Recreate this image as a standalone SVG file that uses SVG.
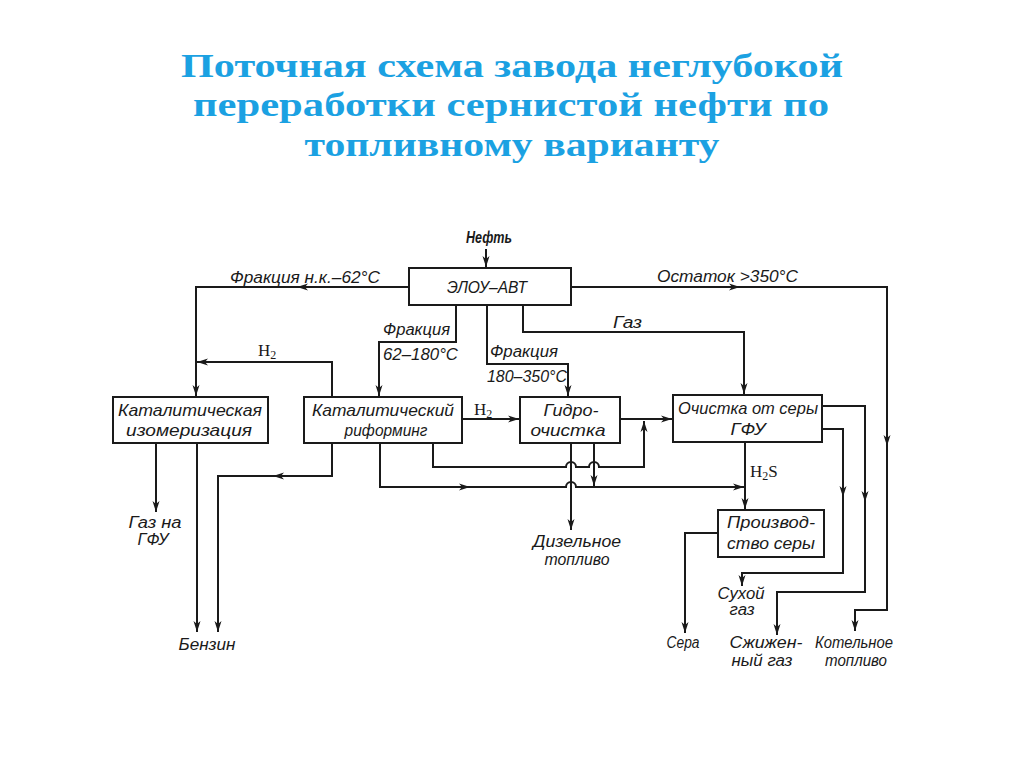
<svg xmlns="http://www.w3.org/2000/svg" xmlns:xlink="http://www.w3.org/1999/xlink" width="1024" height="767" viewBox="0 0 1024 767">
<style>
.title{font-family:"Liberation Serif","DejaVu Serif",serif;font-weight:bold;font-size:34px;fill:#1BA1E2;text-anchor:middle}
.box{fill:#fff;stroke:#1a1a1a;stroke-width:2}
.t{font-family:"Liberation Sans","DejaVu Sans",sans-serif;font-style:italic;font-size:17px;fill:#1a1a1a}
.l{font-family:"Liberation Sans","DejaVu Sans",sans-serif;font-style:italic;font-size:16px;fill:#1a1a1a}
.c{text-anchor:middle}
.h{font-family:"Liberation Serif","DejaVu Serif",serif;font-size:17px;fill:#1a1a1a}
.ln{fill:none;stroke:#1a1a1a;stroke-width:2}
.ah{fill:#1a1a1a}
</style>
<defs>
<marker id="arr" markerWidth="12" markerHeight="8" refX="11" refY="4" orient="auto" markerUnits="userSpaceOnUse" viewBox="0 0 12 8">
<path d="M0,0.5 L11,4 L0,7.5 L3,4 Z" fill="#1a1a1a"/>
</marker>
<path id="ah" d="M0,0 L-11,-3.5 L-8,0 L-11,3.5 Z"/>
</defs>
<rect width="1024" height="767" fill="#fff"/>

<g id="title">
<text class="title" x="512" y="77" textLength="662" lengthAdjust="spacingAndGlyphs">Поточная схема завода неглубокой</text>
<text class="title" x="511" y="116" textLength="636" lengthAdjust="spacingAndGlyphs">переработки сернистой нефти по</text>
<text class="title" x="512" y="156" textLength="415" lengthAdjust="spacingAndGlyphs">топливному варианту</text>
</g>

<g id="connectors">
<path class="ln" d="M486,249 V267" marker-end="url(#arr)"/>
<path class="ln" d="M409,287 H196 V396" marker-end="url(#arr)"/>
<path class="ln" d="M571,287 H887 V610 H855 V631" marker-end="url(#arr)"/>
<path class="ln" d="M523,305 V332 H744 V394" marker-end="url(#arr)"/>
<path class="ln" d="M456,305 V342 H379 V396" marker-end="url(#arr)"/>
<path class="ln" d="M487,305 V364 H568 V396" marker-end="url(#arr)"/>
<path class="ln" d="M332,397 V362 H197" marker-end="url(#arr)"/>
<path class="ln" d="M462,419 H519" marker-end="url(#arr)"/>
<path class="ln" d="M620,419 H672" marker-end="url(#arr)"/>
<path class="ln" d="M332,443 V476 H218 V632" marker-end="url(#arr)"/>
<path class="ln" d="M380,443 V487 H566 a5,5 0 0 1 10,0 H744" marker-end="url(#arr)"/>
<path class="ln" d="M433,443 V467 H566 a5,5 0 0 1 10,0 H589 a5,5 0 0 1 10,0 H644 V421" marker-end="url(#arr)"/>
<path class="ln" d="M571,443 V530" marker-end="url(#arr)"/>
<path class="ln" d="M594,443 V486" marker-end="url(#arr)"/>
<path class="ln" d="M745,442 V509" marker-end="url(#arr)"/>
<path class="ln" d="M718,533 H685 V633" marker-end="url(#arr)"/>
<path class="ln" d="M822,406 H865 V592 H777 V635" marker-end="url(#arr)"/>
<path class="ln" d="M822,429 H843 V573 H742 V586" marker-end="url(#arr)"/>
<path class="ln" d="M156,443 V512" marker-end="url(#arr)"/>
<path class="ln" d="M197,443 V632" marker-end="url(#arr)"/>
<use href="#ah" class="ah" transform="translate(297,287) rotate(180)"/>
<use href="#ah" class="ah" transform="translate(740,287)"/>
<use href="#ah" class="ah" transform="translate(887,446) rotate(90)"/>
<use href="#ah" class="ah" transform="translate(273,476) rotate(180)"/>
<use href="#ah" class="ah" transform="translate(470,487)"/>
<use href="#ah" class="ah" transform="translate(865,502) rotate(90)"/>
<use href="#ah" class="ah" transform="translate(843,497) rotate(90)"/>
</g>

<g id="labels">
<text class="l" x="489" y="243" font-weight="bold" text-anchor="middle" textLength="46" lengthAdjust="spacingAndGlyphs">Нефть</text>
<text class="l" x="230" y="283" textLength="150" lengthAdjust="spacingAndGlyphs">Фракция н.к.–62°С</text>
<text class="l" x="657" y="282" textLength="141" lengthAdjust="spacingAndGlyphs">Остаток &gt;350°С</text>
<text class="l" x="613" y="328" textLength="29" lengthAdjust="spacingAndGlyphs">Газ</text>
<text class="l" x="383" y="335" textLength="67" lengthAdjust="spacingAndGlyphs">Фракция</text>
<text class="l" x="383" y="360" textLength="75" lengthAdjust="spacingAndGlyphs">62–180°С</text>
<text class="l" x="490" y="357" textLength="68" lengthAdjust="spacingAndGlyphs">Фракция</text>
<text class="l" x="487" y="382" textLength="80" lengthAdjust="spacingAndGlyphs">180–350°С</text>
<text class="h" x="258" y="356">H<tspan font-size="12" dy="3">2</tspan></text>
<text class="h" x="474" y="415">H<tspan font-size="12" dy="3">2</tspan></text>
<text class="h" x="750" y="477">H<tspan font-size="12" dy="3">2</tspan><tspan dy="-3">S</tspan></text>
<text class="l" x="155" y="528" text-anchor="middle" textLength="53" lengthAdjust="spacingAndGlyphs">Газ на</text>
<text class="l" x="153" y="545" text-anchor="middle" textLength="31" lengthAdjust="spacingAndGlyphs">ГФУ</text>
<text class="l" x="207" y="650" text-anchor="middle" textLength="57" lengthAdjust="spacingAndGlyphs">Бензин</text>
<text class="l" x="577" y="547" text-anchor="middle" textLength="88" lengthAdjust="spacingAndGlyphs">Дизельное</text>
<text class="l" x="577" y="565" text-anchor="middle" textLength="65" lengthAdjust="spacingAndGlyphs">топливо</text>
<text class="l" x="741" y="599" text-anchor="middle" textLength="47" lengthAdjust="spacingAndGlyphs">Сухой</text>
<text class="l" x="742" y="615" text-anchor="middle" textLength="25" lengthAdjust="spacingAndGlyphs">газ</text>
<text class="l" x="683" y="648" text-anchor="middle" textLength="33" lengthAdjust="spacingAndGlyphs">Сера</text>
<text class="l" x="766" y="648" text-anchor="middle" textLength="73" lengthAdjust="spacingAndGlyphs">Сжижен-</text>
<text class="l" x="762" y="666" text-anchor="middle" textLength="61" lengthAdjust="spacingAndGlyphs">ный газ</text>
<text class="l" x="854" y="648" text-anchor="middle" textLength="78" lengthAdjust="spacingAndGlyphs">Котельное</text>
<text class="l" x="856" y="666" text-anchor="middle" textLength="62" lengthAdjust="spacingAndGlyphs">топливо</text>
</g>

<g id="node-elou">
<rect class="box" x="409" y="268" width="162" height="37"/>
<text class="t c" x="487" y="293" textLength="80" lengthAdjust="spacingAndGlyphs">ЭЛОУ–АВТ</text>
</g>
<g id="node-izomer">
<rect class="box" x="113" y="397" width="155" height="46"/>
<text class="t c" x="190" y="416" textLength="144" lengthAdjust="spacingAndGlyphs">Каталитическая</text>
<text class="t c" x="189" y="436" textLength="126" lengthAdjust="spacingAndGlyphs">изомеризация</text>
</g>
<g id="node-reforming">
<rect class="box" x="304" y="397" width="158" height="46"/>
<text class="t c" x="383" y="416" textLength="142" lengthAdjust="spacingAndGlyphs">Каталитический</text>
<text class="t c" x="386" y="436" textLength="83" lengthAdjust="spacingAndGlyphs">риформинг</text>
</g>
<g id="node-hydro">
<rect class="box" x="520" y="397" width="100" height="46"/>
<text class="t c" x="571" y="416" textLength="55" lengthAdjust="spacingAndGlyphs">Гидро-</text>
<text class="t c" x="568" y="436" textLength="75" lengthAdjust="spacingAndGlyphs">очистка</text>
</g>
<g id="node-ochistka">
<rect class="box" x="673" y="395" width="149" height="47"/>
<text class="t c" x="748" y="414" textLength="140" lengthAdjust="spacingAndGlyphs">Очистка от серы</text>
<text class="t c" x="748" y="435" textLength="35" lengthAdjust="spacingAndGlyphs">ГФУ</text>
</g>
<g id="node-sera">
<rect class="box" x="718" y="510" width="106" height="47"/>
<text class="t c" x="771" y="528" textLength="88" lengthAdjust="spacingAndGlyphs">Производ-</text>
<text class="t c" x="771" y="549" textLength="88" lengthAdjust="spacingAndGlyphs">ство серы</text>
</g>
</svg>
